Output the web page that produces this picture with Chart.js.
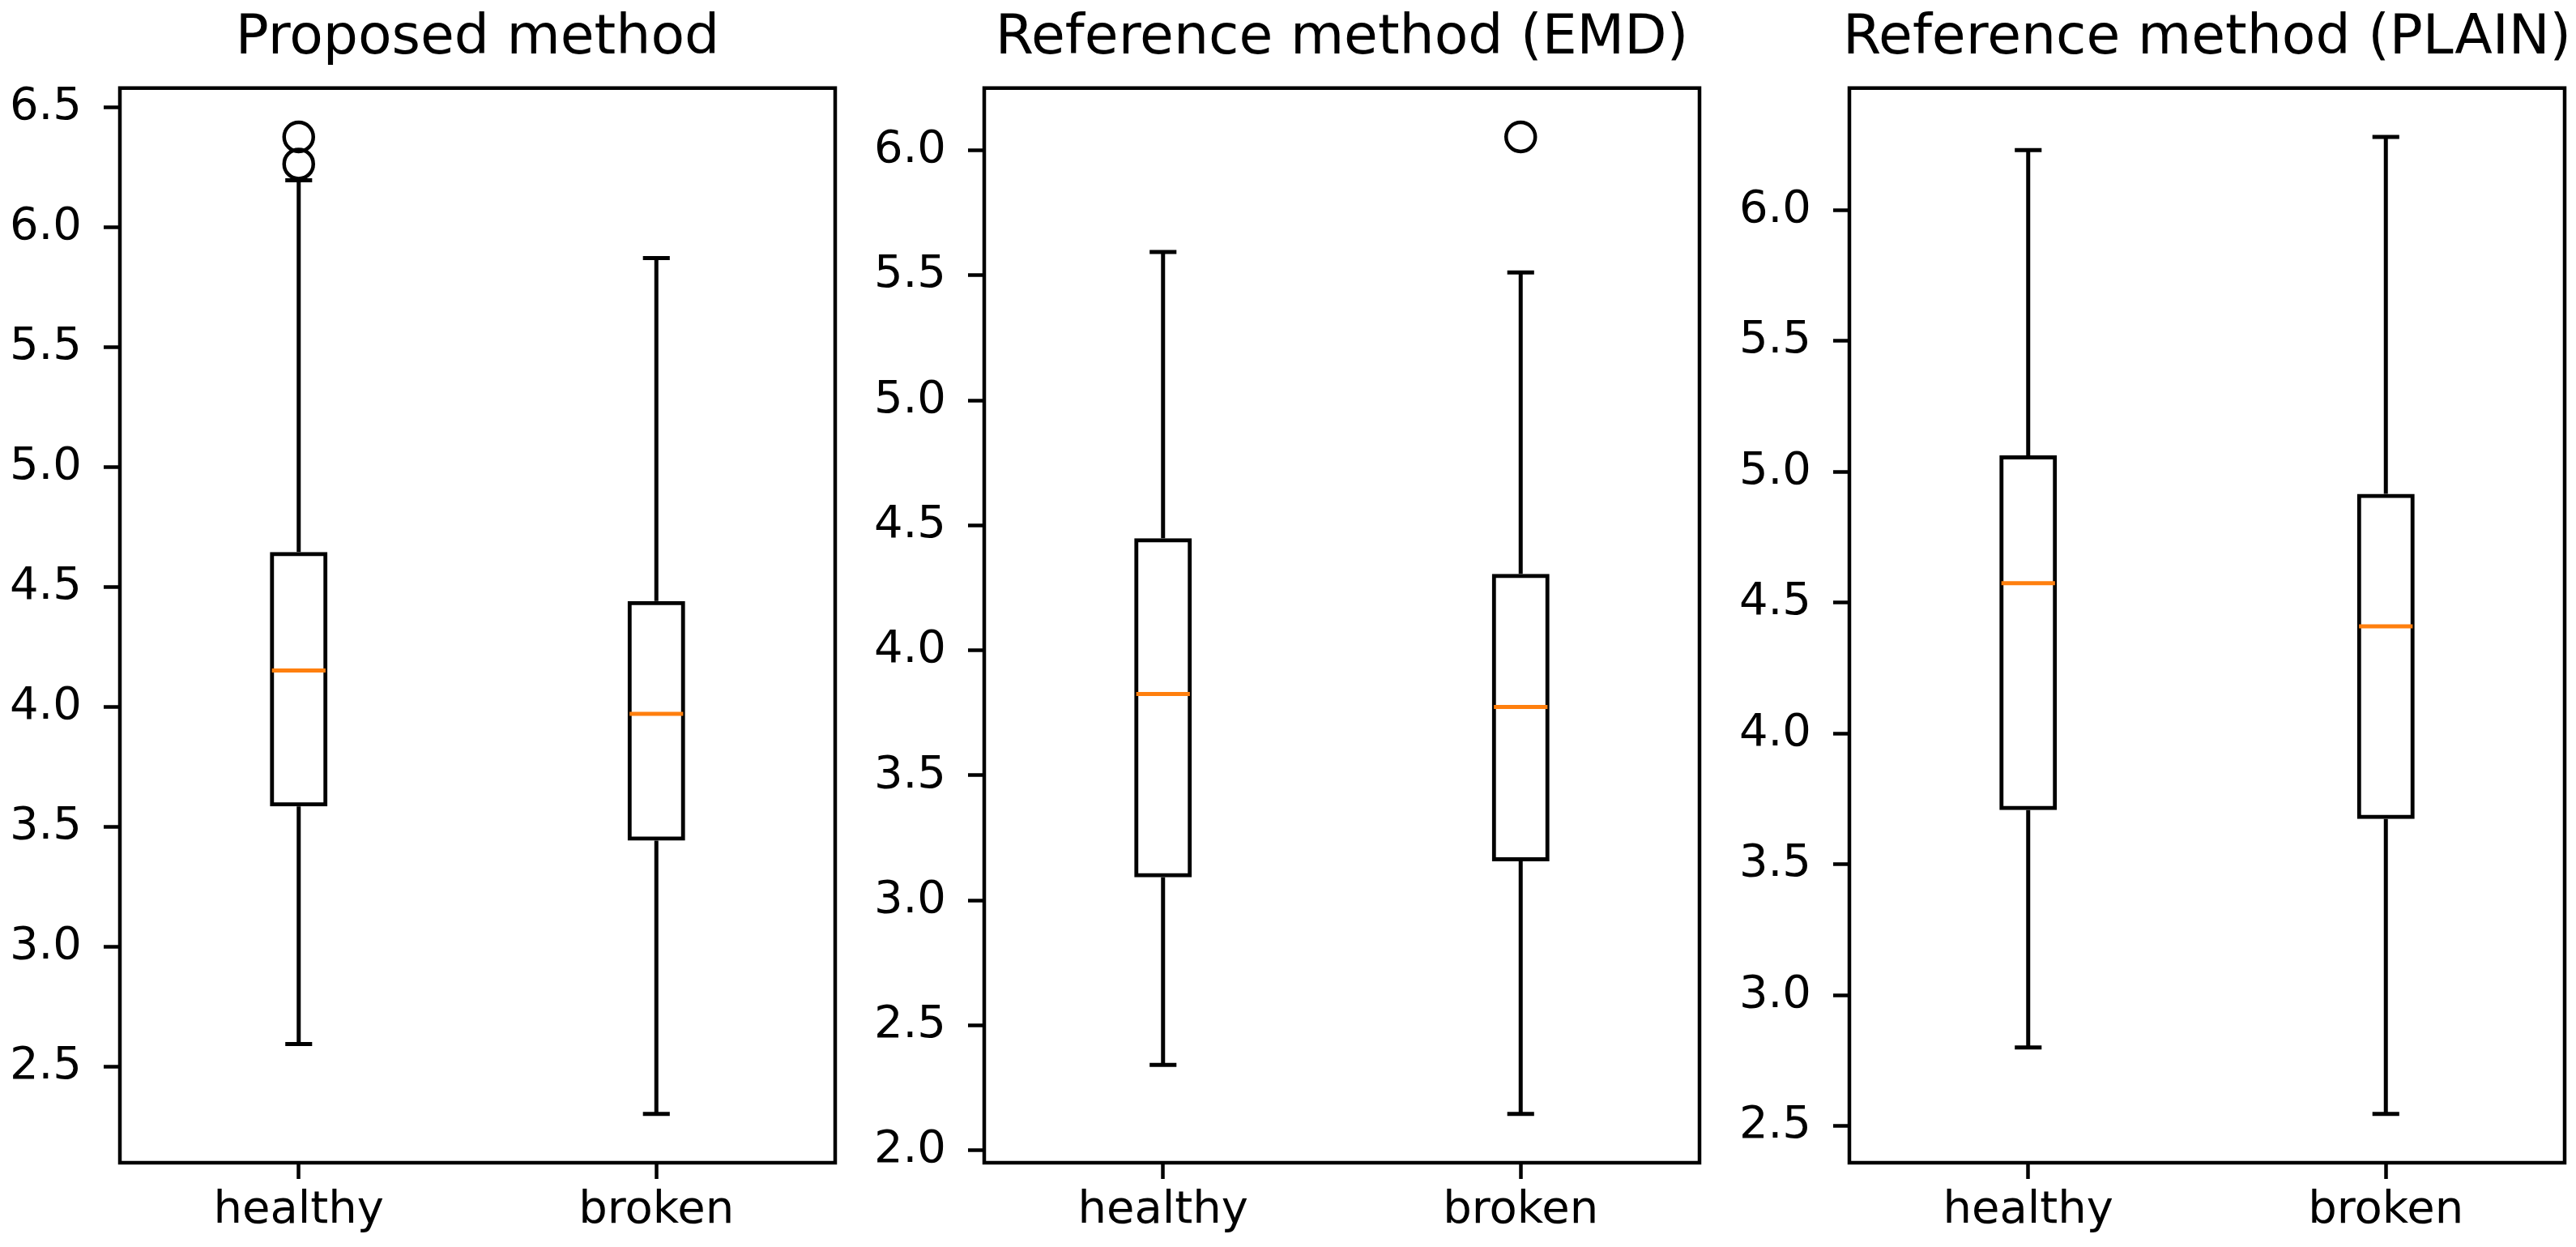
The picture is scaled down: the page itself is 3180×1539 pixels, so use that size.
<!DOCTYPE html>
<html>
<head>
<meta charset="utf-8">
<script src="https://cdn.jsdelivr.net/npm/chart.js@4.4.1/dist/chart.umd.min.js"></script>
<style>
    html, body { margin: 0; padding: 0; background: #fff; }
    body { width: 3180px; height: 1539px; position: relative; overflow: hidden; }
    .panel { position: absolute; top: 0; width: 1179px; height: 1539px; }
</style>
</head>
<body>
<div class="panel" style="left:0px"><canvas id="chartProposed"></canvas></div>
<div class="panel" style="left:1067px"><canvas id="chartEmd"></canvas></div>
<div class="panel" style="left:2135px"><canvas id="chartPlain"></canvas></div>
<script>
const categories = ['healthy', 'broken'];

// Proposed method
const proposedLow = [2.594, 2.303];
const proposedQ1 = [3.585, 3.442];
const proposedMedian = [4.152, 3.971];
const proposedQ3 = [4.646, 4.442];
const proposedHigh = [6.196, 5.872];
const proposedOutliers = [[6.264, 6.377], []];

// Reference method (EMD)
const emdLow = [2.342, 2.146];
const emdQ1 = [3.092, 3.156];
const emdMedian = [3.826, 3.774];
const emdQ3 = [4.449, 4.306];
const emdHigh = [5.594, 5.512];
const emdOutliers = [[], [6.054]];

// Reference method (PLAIN)
const plainLow = [2.801, 2.547];
const plainQ1 = [3.708, 3.674];
const plainMedian = [4.575, 4.410];
const plainQ3 = [5.063, 4.916];
const plainHigh = [6.230, 6.280];
const plainOutliers = [[], []];

const FONT = "'DejaVu Sans', sans-serif";

function makeBoxChart(canvasId, title, low, q1, median, q3, high, outliers) {
    // matplotlib style autoscale: 5% margin on the data range
    const all = low.concat(high, outliers.flat());
    const lo = Math.min(...all);
    const hi = Math.max(...all);
    const margin = (hi - lo) * 0.05;

    const outlierPoints = [];
    outliers.forEach((list, i) => {
        list.forEach((v) => outlierPoints.push({x: categories[i], y: v}));
    });

    const whiskerPlugin = {
        id: 'whiskers',
        afterDatasetsDraw(chart) {
            const {ctx, chartArea} = chart;
            const x = chart.scales.x;
            const y = chart.scales.y;
            const unit = x.getPixelForValue(1) - x.getPixelForValue(0);
            const boxHalf = unit * 0.075;
            const capHalf = unit * 0.0375;
            const seg = (x1, y1, x2, y2) => {
                ctx.beginPath();
                ctx.moveTo(x1, y1);
                ctx.lineTo(x2, y2);
                ctx.stroke();
            };
            ctx.save();
            ctx.lineCap = 'butt';
            for (let i = 0; i < categories.length; i++) {
                const cx = x.getPixelForValue(i);
                ctx.strokeStyle = '#000';
                ctx.lineWidth = 5;
                seg(cx, y.getPixelForValue(q1[i]), cx, y.getPixelForValue(low[i]));
                seg(cx, y.getPixelForValue(q3[i]), cx, y.getPixelForValue(high[i]));
                seg(cx - capHalf, y.getPixelForValue(low[i]), cx + capHalf, y.getPixelForValue(low[i]));
                seg(cx - capHalf, y.getPixelForValue(high[i]), cx + capHalf, y.getPixelForValue(high[i]));
                ctx.strokeStyle = '#ff7f0e';
                seg(cx - boxHalf, y.getPixelForValue(median[i]), cx + boxHalf, y.getPixelForValue(median[i]));
            }
            ctx.strokeStyle = '#000';
            ctx.lineWidth = 4.5;
            ctx.strokeRect(chartArea.left, chartArea.top, chartArea.width, chartArea.height);
            ctx.restore();
        }
    };

    return new Chart(document.getElementById(canvasId), {
        type: 'bar',
        data: {
            labels: categories,
            datasets: [{
                label: 'box',
                data: q1.map((v, i) => [v, q3[i]]),
                backgroundColor: 'rgba(0,0,0,0)',
                borderColor: '#000',
                borderWidth: 5,
                borderSkipped: false,
                barPercentage: 0.161,
                categoryPercentage: 1
            }, {
                type: 'line',
                label: 'outliers',
                data: outlierPoints,
                showLine: false,
                pointStyle: 'circle',
                pointRadius: 18,
                pointHoverRadius: 18,
                pointBorderWidth: 4.5,
                pointBorderColor: '#000',
                pointBackgroundColor: 'rgba(0,0,0,0)'
            }]
        },
        options: {
            responsive: true,
            maintainAspectRatio: false,
            animation: false,
            layout: {padding: 0},
            plugins: {
                legend: {display: false},
                tooltip: {enabled: false},
                title: {
                    display: true,
                    text: title,
                    color: '#000',
                    font: {family: FONT, size: 68, weight: 'normal'},
                    padding: {top: 7.2, bottom: 19.9}
                }
            },
            scales: {
                x: {
                    afterFit: (scale) => { scale.height = 104; },
                    grid: {
                        offset: false,
                        drawOnChartArea: false,
                        drawTicks: true,
                        tickLength: 20,
                        tickWidth: 4.5,
                        tickColor: '#000'
                    },
                    border: {display: false},
                    ticks: {
                        color: '#000',
                        padding: 6,
                        font: {family: FONT, size: 56}
                    }
                },
                y: {
                    min: lo - margin,
                    max: hi + margin,
                    afterFit: (scale) => { scale.width = 148; },
                    grid: {
                        drawOnChartArea: false,
                        drawTicks: true,
                        tickLength: 20,
                        tickWidth: 4.5,
                        tickColor: '#000'
                    },
                    border: {display: false},
                    ticks: {
                        stepSize: 0.5,
                        includeBounds: false,
                        color: '#000',
                        padding: 27,
                        font: {family: FONT, size: 56},
                        callback: (v) => v.toFixed(1)
                    }
                },
                // empty right-hand axis, same width as the left one, so the title centres over the plot
                ySpacer: {
                    position: 'right',
                    min: lo - margin,
                    max: hi + margin,
                    afterFit: (scale) => { scale.width = 148; },
                    grid: {display: false},
                    border: {display: false},
                    ticks: {display: false}
                }
            }
        },
        plugins: [whiskerPlugin]
    });
}

makeBoxChart('chartProposed', 'Proposed method', proposedLow, proposedQ1, proposedMedian, proposedQ3, proposedHigh, proposedOutliers);
makeBoxChart('chartEmd', 'Reference method (EMD)', emdLow, emdQ1, emdMedian, emdQ3, emdHigh, emdOutliers);
makeBoxChart('chartPlain', 'Reference method (PLAIN)', plainLow, plainQ1, plainMedian, plainQ3, plainHigh, plainOutliers);
</script>
</body>
</html>
